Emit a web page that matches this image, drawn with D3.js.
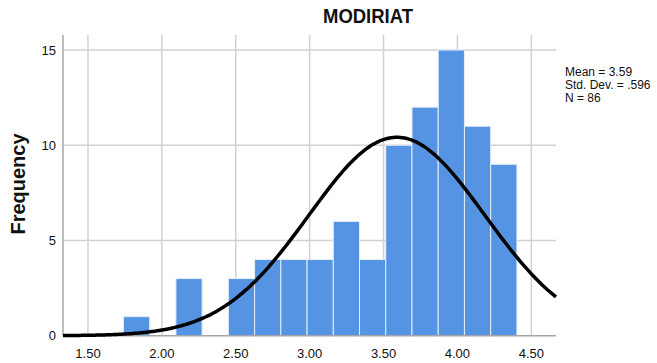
<!DOCTYPE html>
<html>
<head>
<meta charset="utf-8">
<script src="https://cdn.jsdelivr.net/npm/d3@7"></script>
<style>
    body { margin: 0; background: #fff; }
    text { font-family: "Liberation Sans", Arial, sans-serif; fill: #111; }
</style>
</head>
<body>
<div id="chart"></div>
<script>
// histogram bins (left edge of first bin, bin width, counts)
var binStart = 1.74;
var binWidth = 0.1775;
var binCounts = [1, 0, 3, 0, 3, 4, 4, 4, 6, 4, 10, 12, 15, 11, 9];

var xTicks = [1.5, 2.0, 2.5, 3.0, 3.5, 4.0, 4.5];
var yTicks = [0, 5, 10, 15];

var statLines = ["Mean = 3.59", "Std. Dev. = .596", "N = 86"];
var meanVal = 3.59, sdVal = 0.596, nVal = 86;
var curveBinWidth = 0.181; // scaling SPSS used for the normal curve

var width = 657, height = 363;
var plotL = 63, plotR = 556, plotT = 35, plotB = 335.7;

var svg = d3.select("#chart").append("svg")
        .attr("width", width)
        .attr("height", height);

var x = d3.scaleLinear()
        .domain([1.331, 4.667])
        .range([plotL, plotR]);

var y = d3.scaleLinear()
        .domain([0, 15.79])
        .range([plotB, plotT]);

// gridlines
svg.append("g").selectAll("line")
        .data(xTicks)
        .enter()
        .append("line")
        .attr("x1", function (d) { return x(d); })
        .attr("x2", function (d) { return x(d); })
        .attr("y1", plotT)
        .attr("y2", plotB)
        .attr("stroke", "#d2d2d2")
        .attr("stroke-width", 1.5);

svg.append("g").selectAll("line")
        .data(yTicks.filter(function (d) { return d > 0; }))
        .enter()
        .append("line")
        .attr("x1", plotL)
        .attr("x2", plotR)
        .attr("y1", function (d) { return y(d); })
        .attr("y2", function (d) { return y(d); })
        .attr("stroke", "#d2d2d2")
        .attr("stroke-width", 1.5);

// bars
var bars = binCounts.map(function (c, i) {
    return {x0: binStart + i * binWidth, x1: binStart + (i + 1) * binWidth, n: c};
}).filter(function (d) { return d.n > 0; });

svg.append("g").selectAll("rect")
        .data(bars)
        .enter()
        .append("rect")
        .attr("x", function (d) { return x(d.x0); })
        .attr("width", function (d) { return x(d.x1) - x(d.x0); })
        .attr("y", function (d) { return y(d.n); })
        .attr("height", function (d) { return y(0) - y(d.n); })
        .attr("fill", "#5594e3")
        .attr("stroke", "#e3edfb")
        .attr("stroke-width", 1);

// axes lines
svg.append("line")
        .attr("x1", plotL).attr("x2", plotL)
        .attr("y1", plotT).attr("y2", plotB)
        .attr("stroke", "#a6a6a6").attr("stroke-width", 1.5);
svg.append("line")
        .attr("x1", plotL).attr("x2", plotR)
        .attr("y1", plotB).attr("y2", plotB)
        .attr("stroke", "#a6a6a6").attr("stroke-width", 1.5);

// normal curve
var curvePts = d3.range(0, 201).map(function (i) {
    var v = x.domain()[0] + (x.domain()[1] - x.domain()[0]) * i / 200;
    var z = (v - meanVal) / sdVal;
    var f = nVal * curveBinWidth / (sdVal * Math.sqrt(2 * Math.PI)) * Math.exp(-0.5 * z * z);
    return {x: v, y: f};
});

var line = d3.line()
        .x(function (d) { return x(d.x); })
        .y(function (d) { return y(d.y); })
        .curve(d3.curveBasis);

svg.append("path")
        .datum(curvePts)
        .attr("d", line)
        .attr("fill", "none")
        .attr("stroke", "#000")
        .attr("stroke-width", 3.5);

// tick labels
svg.append("g").selectAll("text")
        .data(xTicks)
        .enter()
        .append("text")
        .attr("x", function (d) { return x(d); })
        .attr("y", 358)
        .attr("text-anchor", "middle")
        .style("font-size", "13px")
        .text(function (d) { return d.toFixed(2); });

svg.append("g").selectAll("text")
        .data(yTicks)
        .enter()
        .append("text")
        .attr("x", 56)
        .attr("y", function (d) { return y(d); })
        .attr("dy", "0.36em")
        .attr("text-anchor", "end")
        .style("font-size", "13px")
        .text(function (d) { return d; });

// title
svg.append("text")
        .attr("x", 368)
        .attr("y", 23)
        .attr("text-anchor", "middle")
        .attr("textLength", 90)
        .attr("lengthAdjust", "spacingAndGlyphs")
        .style("font-size", "20px")
        .style("font-weight", "bold")
        .text("MODIRIAT");

// y label
svg.append("text")
        .attr("transform", "translate(25,184) rotate(-90)")
        .attr("text-anchor", "middle")
        .style("font-size", "20px")
        .style("font-weight", "bold")
        .text("Frequency");

// stats
svg.append("g").selectAll("text")
        .data(statLines)
        .enter()
        .append("text")
        .attr("x", 565)
        .attr("y", function (d, i) { return 76 + i * 13; })
        .style("font-size", "12px")
        .text(function (d) { return d; });
</script>
</body>
</html>
